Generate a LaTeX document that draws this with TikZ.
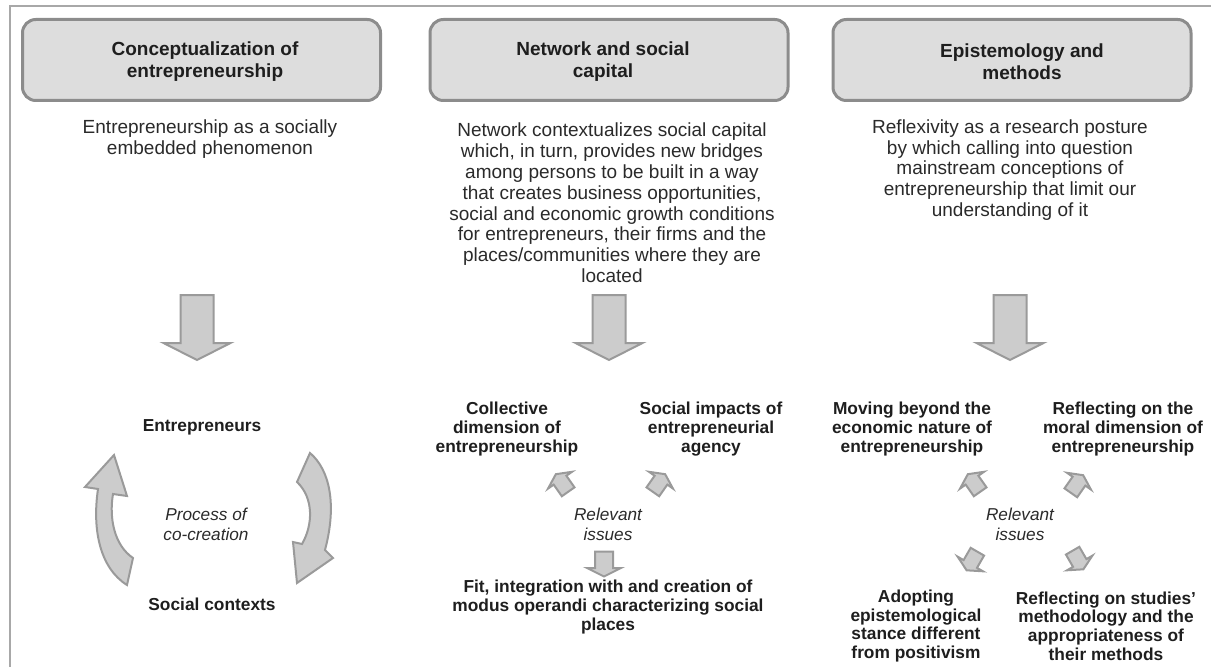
\documentclass[tikz,border=0pt]{standalone}
\usepackage{fontspec}
\setmainfont{Liberation Sans}
\definecolor{boxfill}{HTML}{DDDDDD}
\definecolor{boxline}{HTML}{8C8C8C}
\definecolor{arrfill}{HTML}{CCCCCC}
\definecolor{arrline}{HTML}{9A9A9A}
\definecolor{txt}{HTML}{1E1E1E}
\definecolor{txtb}{HTML}{2A2A2A}
\definecolor{framec}{HTML}{A8A8A8}
% #1 position, #2 mirror (1 or -1), #3 rotation, #4 scale
\newcommand{\smallarr}[4]{%
  \begin{scope}[shift={(#1)}, xscale=#2, rotate=#3, scale=#4]
  \draw[arrowshape] (-9,-12.5) -- (9,-12.5) -- (9,4) -- (17,4) -- (0,12.5) -- (-17,4) -- (-9,4) -- cycle;
  \end{scope}}
\newcommand{\bigarr}[1]{%
  \begin{scope}[shift={(#1)}]
  \draw[arrowshape] (-16.5,-32.5) -- (16.5,-32.5) -- (16.5,15.5) -- (33.5,15.5) -- (0,32.5) -- (-33.5,15.5) -- (-16.5,15.5) -- cycle;
  \end{scope}}
\begin{document}
\begin{tikzpicture}[x=0.75pt,y=-0.75pt,
  titlebox/.style={draw=boxline, fill=boxfill, line width=2.25pt, rounded corners=10pt,
     minimum width=268.5pt, minimum height=60.75pt, inner sep=0pt},
  titletext/.style={font=\bfseries\fontsize{14.25}{16.5}\selectfont, align=center, text=txt, inner sep=0pt},
  desctext/.style={font=\fontsize{14.25}{15.6}\selectfont, align=center, text=txtb, inner sep=0pt},
  labeltext/.style={font=\bfseries\fontsize{13}{14.5}\selectfont, align=center, text=txt, inner sep=0pt},
  labeltextb/.style={labeltext, font=\bfseries\fontsize{13}{14}\selectfont},
  issuetext/.style={font=\itshape\fontsize{12.9}{15}\selectfont, align=center, text=txtb, inner sep=0pt},
  arrowshape/.style={draw=arrline, fill=arrfill, line width=1.5pt, line join=miter},
  framestyle/.style={draw=framec, line width=1.5pt}]
\useasboundingbox (0,0) rectangle (1211,667);
\draw[framestyle] (1211,6) -- (10,6) -- (10,667);

% title boxes
\node[titlebox] (b1) at (201.5,60) {};
\node[titlebox] (b2) at (609,60) {};
\node[titlebox] (b3) at (1012,60) {};
\node[titletext] (t1) at (205,62) {Conceptualization of\\entrepreneurship};
\node[titletext] (t2) at (603,62) {Network and social\\capital};
\node[titletext] (t3) at (1022,62) {Epistemology and\\methods};

% descriptions
\node[desctext] (d1) at (210,139) {Entrepreneurship as a socially\\embedded phenomenon};
\node[desctext] (d2) at (612,203) {Network contextualizes social capital\\which, in turn, provides new bridges\\among persons to be built in a way\\that creates business opportunities,\\social and economic growth conditions\\for entrepreneurs, their firms and the\\places/communities where they are\\located};
\node[desctext] (d3) at (1010,170) {Reflexivity as a research posture\\by which calling into question\\mainstream conceptions of\\entrepreneurship that limit our\\understanding of it};

% big arrows
\coordinate (a1) at (197,327.5);
\coordinate (a2) at (609,327.5);
\coordinate (a3) at (1010,327.5);
\bigarr{a1}
\bigarr{a2}
\bigarr{a3}

% column 1
\node[labeltext] (e1) at (202,427) {Entrepreneurs};
\node[labeltext] (s1) at (212,604) {Social contexts};
\node[issuetext] (p1) at (206,524) {Process of\\co-creation};
\draw[arrowshape] (127,585) .. controls (100,568) and (92,530) .. (98,489) -- (85,487) -- (114,455) -- (127,496) -- (113,494) .. controls (109,518) and (114,545) .. (133,558) -- cycle;
\draw[arrowshape] (310,453) .. controls (330,470) and (337,505) .. (325,550) -- (333,558) -- (297,583) -- (293,542) -- (302,544) .. controls (313,525) and (314,498) .. (297,482) -- cycle;

% column 2
\node[labeltext] (c2a) at (507,429) {Collective\\dimension of\\entrepreneurship};
\node[labeltext] (c2b) at (711,429) {Social impacts of\\entrepreneurial\\agency};
\node[issuetext] (c2c) at (608,524) {Relevant\\issues};
\node[labeltext] (c2d) at (608,607) {Fit, integration with and creation of\\modus operandi characterizing social\\places};
\coordinate (sa) at (562,483);
\coordinate (sb) at (659,483);
\coordinate (sc) at (604,564);
\smallarr{sa}{1}{215}{0.86}
\smallarr{sb}{-1}{215}{0.86}
\smallarr{sc}{1}{0}{1}

% column 3
\node[labeltext] (c3a) at (912,429) {Moving beyond the\\economic nature of\\entrepreneurship};
\node[labeltext] (c3b) at (1123,429) {Reflecting on the\\moral dimension of\\entrepreneurship};
\node[issuetext] (c3c) at (1020,524) {Relevant\\issues};
\node[labeltextb] (c3d) at (916,626) {Adopting\\epistemological\\stance different\\from positivism};
\node[labeltextb] (c3e) at (1106,626) {Reflecting on studies'\\methodology and the\\appropriateness of\\their methods};
\coordinate (sd) at (974,483);
\coordinate (se) at (1077,484);
\coordinate (sf) at (972,561);
\coordinate (sg) at (1078,560);
\smallarr{sd}{1}{215}{0.86}
\smallarr{se}{-1}{215}{0.86}
\smallarr{sf}{1}{330}{0.86}
\smallarr{sg}{-1}{330}{0.86}
\end{tikzpicture}
\end{document}
